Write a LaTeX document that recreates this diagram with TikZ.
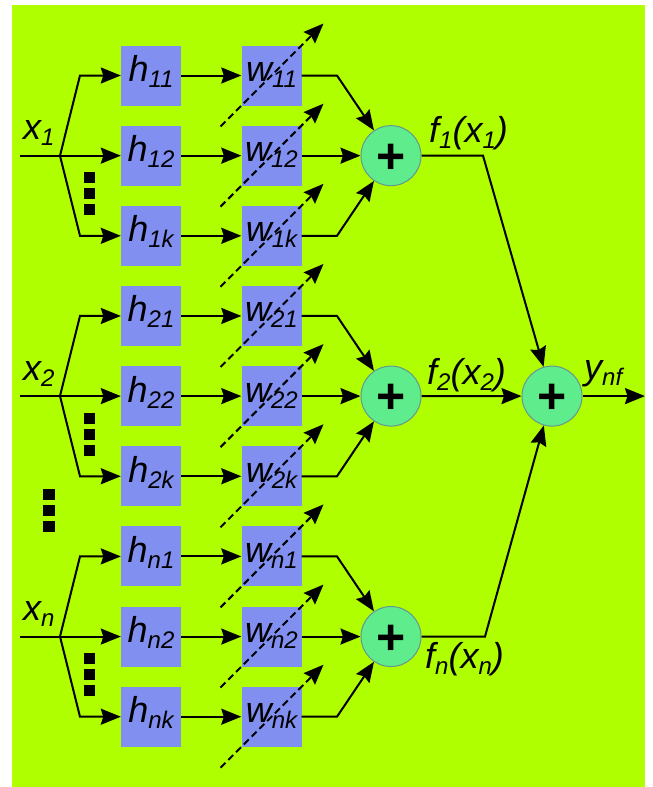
\documentclass[tikz,border=0pt]{standalone}
\usepackage{fontspec}
\setmainfont{Liberation Sans}
\usetikzlibrary{arrows.meta,calc}
\definecolor{bggreen}{RGB}{176,255,0}
\definecolor{boxblue}{RGB}{128,143,240}
\definecolor{sumgreen}{RGB}{94,236,140}
\definecolor{sumedge}{RGB}{100,150,150}
\newcommand\sbs[1]{\raisebox{-6pt}{\fontsize{24}{24}\selectfont #1}}
\begin{document}
\begin{tikzpicture}[x=1pt,y=-1pt,
  >={Stealth[length=20pt,width=16pt,inset=2.5pt]},
  wire/.style={line width=2pt},
  block/.style={fill=boxblue, minimum size=60pt, inner sep=0pt,
    font=\fontsize{36}{36}\selectfont\itshape, text height=18pt, text depth=6pt},
  sumnode/.style={circle, fill=sumgreen, draw=sumedge, line width=1pt,
    minimum size=60pt, inner sep=0pt, font=\fontsize{50}{50}\selectfont\bfseries,
    text height=35pt, text depth=0pt},
  lbl/.style={anchor=base west, inner sep=0pt, font=\fontsize{36}{36}\selectfont\itshape},
  tune/.style={line width=2pt, dash pattern=on 7pt off 4pt, ->}
]
\useasboundingbox (0,0) rectangle (653,787);
\fill[white] (0,0) rectangle (653,787);
\fill[bggreen] (12,5) rectangle (645,787);

% filter and weight blocks
\foreach \i/\s in {1/11,2/12,3/1k,4/21,5/22,6/2k,7/n1,8/n2,9/nk}{
  \pgfmathsetmacro\yy{75.5+80.15*(\i-1)}
  \node[block] (h\i) at (151,\yy) {h\sbs{\s}};
  \node[block] (w\i) at (271.5,\yy) {w\sbs{\s}};
  \draw[wire,->] (h\i) -- (w\i);
}

% groups
\foreach \g/\a/\b/\c/\lab in {1/1/2/3/1, 2/4/5/6/2, 3/7/8/9/n}{
  \pgfmathsetmacro\ym{75.5+80.15*(\b-1)}
  \pgfmathsetmacro\yt{\ym-80.15}
  \pgfmathsetmacro\yb{\ym+80.15}
  \coordinate (x\g) at (20,\ym);
  \coordinate (br\g) at (60,\ym);
  \coordinate (bt\g) at (80,\yt);
  \coordinate (bb\g) at (80,\yb);
  \draw[wire] (x\g) -- (br\g);
  \draw[wire,->] (br\g) -- (bt\g) -- (h\a);
  \draw[wire,->] (br\g) -- (h\b);
  \draw[wire,->] (br\g) -- (bb\g) -- (h\c);
  \node[lbl] (xl\g) at (23,\ym-16) {x\sbs{\lab}};
  \foreach \d in {22,38,54}{
    \fill[black] (84,\ym+\d-5.5) rectangle ++(11,11);
  }
  \node[sumnode] (s\g) at (391,\ym) {+};
  \coordinate (ct\g) at (337,\yt);
  \coordinate (cb\g) at (337,\yb);
  \draw[wire,->] (w\a) -- (ct\g) -- (s\g);
  \draw[wire,->] (w\b) -- (s\g);
  \draw[wire,->] (w\c) -- (cb\g) -- (s\g);
}

% adjustable weights (dashed arrows)
\foreach \i in {1,...,9}{
  \draw[tune] ($(w\i)+(-51,51)$) -- ($(w\i)+(52,-52)$);
}

% dots between groups
\foreach \d in {494.5,510.5,526.5}{
  \fill[black] (43,\d-5.5) rectangle ++(12,11);
}

% output summation
\node[sumnode] (sf) at (552,396.1) {+};
\coordinate (k1) at (483,155.65);
\coordinate (k3) at (485,636.55);
\coordinate (yout) at (645,396.1);
\draw[wire,->] (s1) -- (k1) -- (sf);
\draw[wire,->] (s2) -- (sf);
\draw[wire,->] (s3) -- (k3) -- (sf);
\draw[wire,->] (sf) -- (yout);

\node[lbl] (f1) at (429,142) {f\sbs{1}(x\sbs{1})};
\node[lbl] (f2) at (427,384) {f\sbs{2}(x\sbs{2})};
\node[lbl] (fn) at (425,668) {f\sbs{n}(x\sbs{n})};
\node[lbl] (ynf) at (584,379) {y\sbs{nf}};
\end{tikzpicture}
\end{document}
